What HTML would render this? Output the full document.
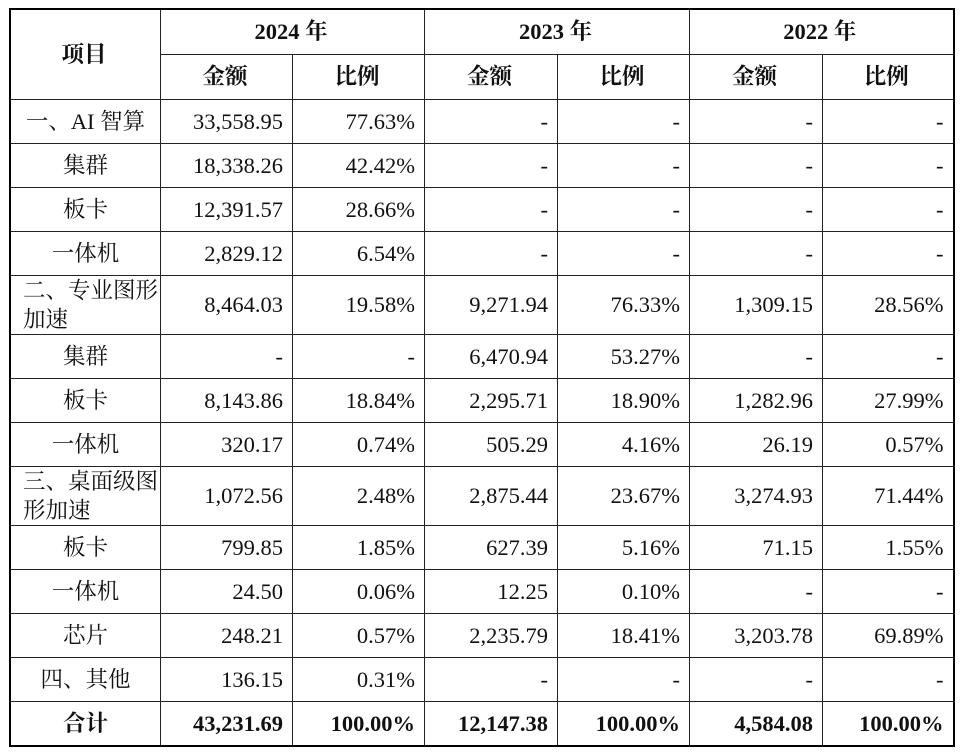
<!DOCTYPE html>
<html><head><meta charset="utf-8"><style>
body{margin:0;background:#fff;width:960px;height:756px;overflow:hidden}
table{position:absolute;left:9px;top:8px;border-collapse:collapse;border:2.5px solid #000;font-family:"Liberation Serif","Noto Serif CJK SC","Noto Sans CJK SC",serif;font-size:22.5px;color:#111}
td{border:1.3px solid #222;padding:0 9px 0 6px;text-align:right;white-space:nowrap;line-height:29px;overflow:hidden}
td.l{text-align:center;padding:0 2px}
td.l2{text-align:left;padding:0 2px 0 12px;line-height:29px}
tr.h td{text-align:center;font-weight:bold}
tr.t td{font-weight:bold}
</style></head><body>
<table>
<colgroup><col style="width:148px"><col style="width:132px"><col style="width:132px"><col style="width:133px"><col style="width:132px"><col style="width:133px"><col style="width:131px"></colgroup>
<tr class="h" style="height:45px"><td rowspan="2">项目</td><td colspan="2">2024 年</td><td colspan="2">2023 年</td><td colspan="2">2022 年</td></tr>
<tr class="h" style="height:45px"><td>金额</td><td>比例</td><td>金额</td><td>比例</td><td>金额</td><td>比例</td></tr>
<tr style="height:44px"><td class="l">一、AI 智算</td><td>33,558.95</td><td>77.63%</td><td>-</td><td>-</td><td>-</td><td>-</td></tr>
<tr style="height:44px"><td class="l">集群</td><td>18,338.26</td><td>42.42%</td><td>-</td><td>-</td><td>-</td><td>-</td></tr>
<tr style="height:44px"><td class="l">板卡</td><td>12,391.57</td><td>28.66%</td><td>-</td><td>-</td><td>-</td><td>-</td></tr>
<tr style="height:44px"><td class="l">一体机</td><td>2,829.12</td><td>6.54%</td><td>-</td><td>-</td><td>-</td><td>-</td></tr>
<tr style="height:59px"><td class="l2">二、专业图形<br>加速</td><td>8,464.03</td><td>19.58%</td><td>9,271.94</td><td>76.33%</td><td>1,309.15</td><td>28.56%</td></tr>
<tr style="height:44px"><td class="l">集群</td><td>-</td><td>-</td><td>6,470.94</td><td>53.27%</td><td>-</td><td>-</td></tr>
<tr style="height:44px"><td class="l">板卡</td><td>8,143.86</td><td>18.84%</td><td>2,295.71</td><td>18.90%</td><td>1,282.96</td><td>27.99%</td></tr>
<tr style="height:44px"><td class="l">一体机</td><td>320.17</td><td>0.74%</td><td>505.29</td><td>4.16%</td><td>26.19</td><td>0.57%</td></tr>
<tr style="height:59px"><td class="l2">三、桌面级图<br>形加速</td><td>1,072.56</td><td>2.48%</td><td>2,875.44</td><td>23.67%</td><td>3,274.93</td><td>71.44%</td></tr>
<tr style="height:44px"><td class="l">板卡</td><td>799.85</td><td>1.85%</td><td>627.39</td><td>5.16%</td><td>71.15</td><td>1.55%</td></tr>
<tr style="height:44px"><td class="l">一体机</td><td>24.50</td><td>0.06%</td><td>12.25</td><td>0.10%</td><td>-</td><td>-</td></tr>
<tr style="height:44px"><td class="l">芯片</td><td>248.21</td><td>0.57%</td><td>2,235.79</td><td>18.41%</td><td>3,203.78</td><td>69.89%</td></tr>
<tr style="height:44px"><td class="l">四、其他</td><td>136.15</td><td>0.31%</td><td>-</td><td>-</td><td>-</td><td>-</td></tr>
<tr class="t" style="height:45px"><td class="l">合计</td><td>43,231.69</td><td>100.00%</td><td>12,147.38</td><td>100.00%</td><td>4,584.08</td><td>100.00%</td></tr>
</table>
</body></html>
